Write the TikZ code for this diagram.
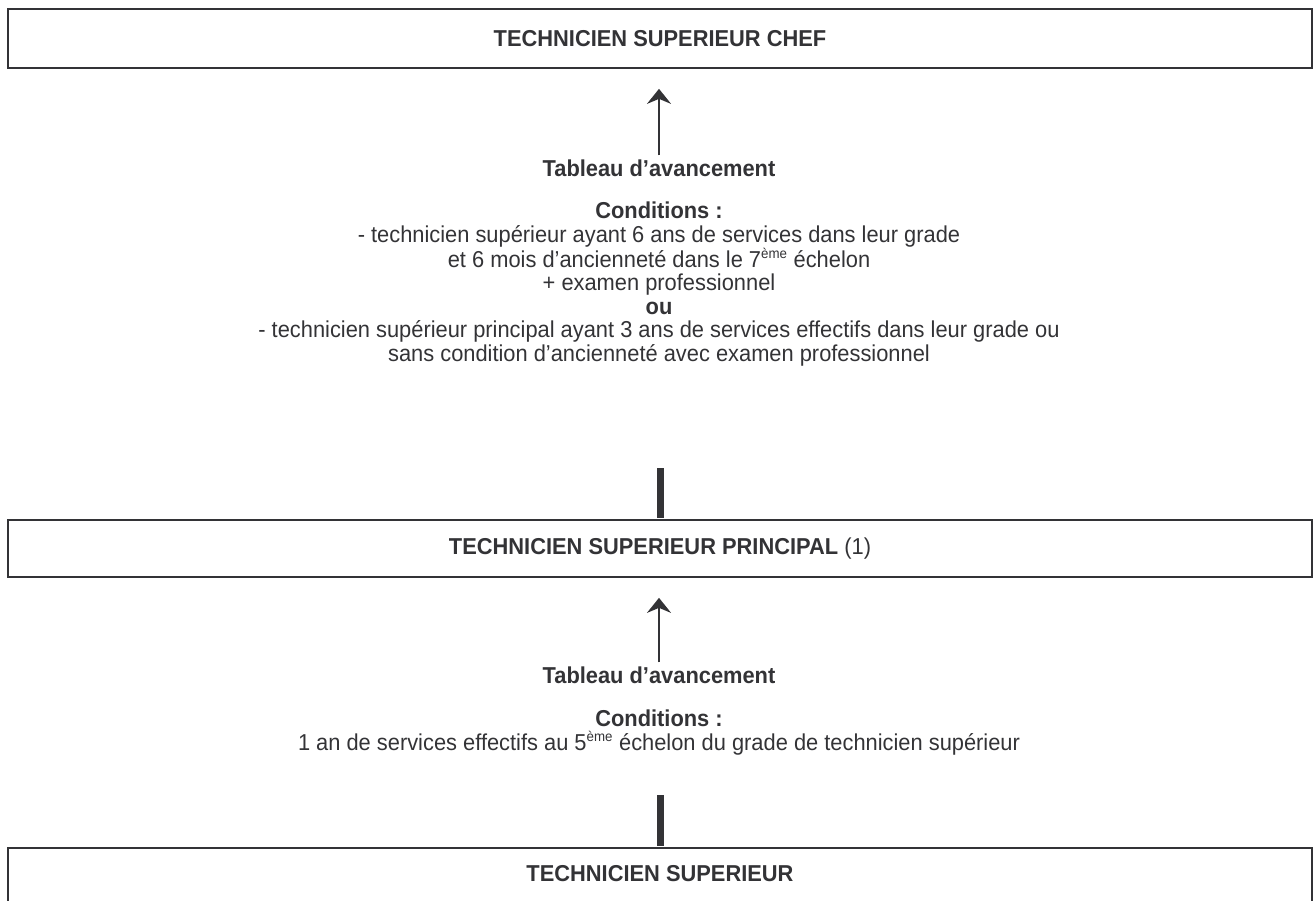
\documentclass[tikz,border=0pt]{standalone}
\usepackage{fontspec}
\setmainfont[FakeStretch=0.95]{Liberation Sans}
\usepackage{xcolor}
\definecolor{gradeLine}{HTML}{333336}
\definecolor{gradeText}{HTML}{333336}
\usetikzlibrary{arrows.meta,positioning}
\tikzset{
    grade/.style={
        draw=gradeLine,
        rectangle,
        line width=1.7pt,
        minimum width=1304pt,
        align=center,
        text=gradeText,
        font=\fontsize{23}{28}\selectfont\bfseries
    },
    tableau/.style={
        text=gradeText,
        inner sep=0pt,
        font=\fontsize{23}{28}\selectfont\bfseries
    },
    cond/.style={
        text=gradeText,
        align=center,
        inner sep=0pt,
        font=\fontsize{23}{23.5}\selectfont
    },
    uparrow/.style={
        -{Stealth[length=15pt,width=24pt,inset=5pt]},
        line width=2.4pt,
        color=gradeLine
    },
    bar/.style={
        line width=7pt,
        color=gradeLine
    }
}
\newcommand{\eme}{\textsuperscript{\fontsize{14}{14}\selectfont ème}}

\begin{document}
\begin{tikzpicture}[x=1pt,y=-1pt]
    \useasboundingbox (0,0) rectangle (1314,901);

    % Grades
    \node[grade, minimum height=59pt] (chef) at (660,38.5) {TECHNICIEN SUPERIEUR CHEF};
    \node[grade, minimum height=57pt] (princ) at (660,548.5)
        {TECHNICIEN SUPERIEUR PRINCIPAL \mdseries(1)};
    \node[grade, anchor=north, text height=17pt, text depth=40pt, inner ysep=17pt] (tech)
        at (660,847) {TECHNICIEN SUPERIEUR};

    % Avancement vers chef
    \node[tableau] (tab1) at (659,168) {Tableau d’avancement};
    \node[cond, anchor=north] (cond1) at (659,202) {%
        \textbf{Conditions :}\\
        - technicien supérieur ayant 6 ans de services dans leur grade\\
        et 6 mois d’ancienneté dans le 7\eme{} échelon\\
        + examen professionnel\\
        \textbf{ou}\\
        - technicien supérieur principal ayant 3 ans de services effectifs dans leur grade ou\\
        sans condition d’ancienneté avec examen professionnel};

    % Avancement vers principal
    \node[tableau] (tab2) at (659,675) {Tableau d’avancement};
    \node[cond, anchor=north] (cond2) at (659,710) {%
        \textbf{Conditions :}\\
        1 an de services effectifs au 5\eme{} échelon du grade de technicien supérieur};

    % Bar ends
    \coordinate (bar1) at (660.5,468);
    \coordinate (bar2) at (660.5,795);

    % Arrows
    \draw[uparrow, shorten <=4pt, shorten >=20pt] (tab1.north) -- (tab1.north |- chef.south);
    \draw[uparrow, shorten <=4pt, shorten >=20pt] (tab2.north) -- (tab2.north |- princ.south);
    \draw[bar, shorten >=1pt] (bar1) -- (bar1 |- princ.north);
    \draw[bar, shorten >=1pt] (bar2) -- (bar2 |- tech.north);
\end{tikzpicture}
\end{document}
